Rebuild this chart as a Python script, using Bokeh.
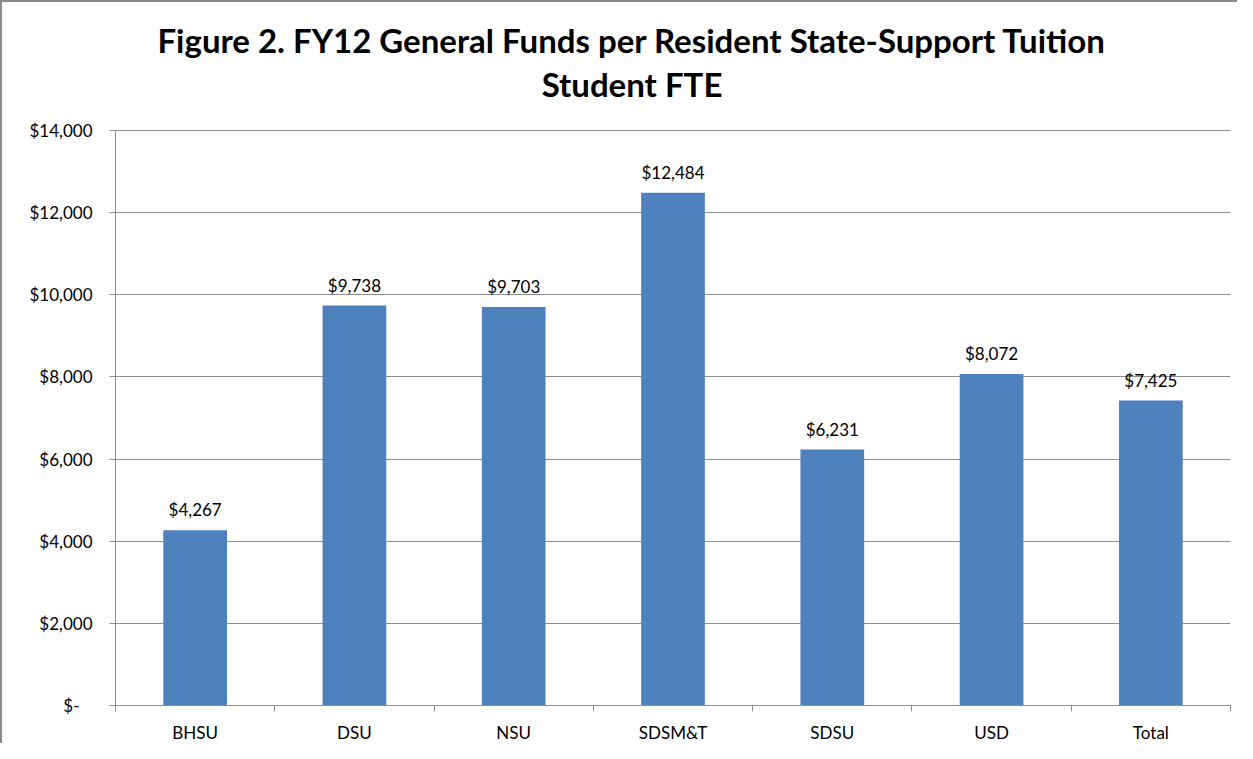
from bokeh.plotting import figure
from bokeh.models import FixedTicker, ColumnDataSource, Range1d
from bokeh.core.properties import value
from bokeh.embed import file_html
from bokeh.resources import INLINE

categories = ["BHSU", "DSU", "NSU", "SDSM&T", "SDSU", "USD", "Total"]
funds = [4267, 9738, 9703, 12484, 6231, 8072, 7425]
y_ticks = [0, 2000, 4000, 6000, 8000, 10000, 12000, 14000]
y_tick_labels = ["$-\u00a0\u00a0\u00a0", "$2,000", "$4,000", "$6,000", "$8,000",
                 "$10,000", "$12,000", "$14,000"]
title_lines = ["Figure 2. FY12 General Funds per Resident State-Support Tuition",
               "Student FTE"]

FONT = "Lato"
GRAY = "#8E8E8E"

W, H = 1237, 743
BORDER_BOTTOM = 35
TITLE_SPACE = 129  # pixels between canvas top and the $14,000 gridline

xs = list(range(1, len(categories) + 1))
bounds = [i + 0.5 for i in range(len(categories) + 1)]
bar_labels = ["${:,}".format(v) for v in funds]
src = ColumnDataSource(dict(x=xs, top=funds, label=bar_labels))

frame_h = H - BORDER_BOTTOM
y_top = y_ticks[-1] * frame_h / (frame_h - TITLE_SPACE)

p = figure(width=W, height=H, x_range=Range1d(bounds[0], bounds[-1]),
           y_range=Range1d(y_ticks[0], y_top),
           output_backend="svg", toolbar_location=None,
           min_border_left=113, min_border_right=9, min_border_bottom=BORDER_BOTTOM,
           min_border_top=0)
p.styles = {"border-left": "2px solid #8A8A8A", "border-top": "2px solid #8A8A8A"}

p.vbar(x="x", top="top", width=0.4, source=src, fill_color="#4F81BD", line_color=None)
p.text(x="x", y="top", text="label", source=src, text_align="center",
       text_baseline="bottom", y_offset=-10, text_font=value(FONT),
       text_font_size="17px", text_color="#000000")

x_mid = (bounds[0] + bounds[-1]) / 2
tsrc = ColumnDataSource(dict(x=[x_mid, x_mid], y=[y_ticks[-1], y_ticks[-1]],
                             text=title_lines, yoff=[-91, -47]))
p.text(x="x", y="y", text="text", source=tsrc, x_offset=-41, y_offset="yoff",
       text_align="center", text_baseline="alphabetic", text_font=value(FONT),
       text_font_style="bold", text_font_size="33px", text_color="#000000")

p.outline_line_color = None
p.background_fill_color = "white"
p.border_fill_color = "white"

p.xgrid.visible = False
p.ygrid.ticker = FixedTicker(ticks=y_ticks)
p.ygrid.grid_line_color = GRAY
p.ygrid.grid_line_width = 1

xa = p.xaxis[0]
xa.ticker = FixedTicker(ticks=xs, minor_ticks=bounds)
xa.major_label_overrides = {x: c for x, c in zip(xs, categories)}
xa.major_tick_out = 0
xa.major_tick_in = 0
xa.minor_tick_out = 6
xa.minor_tick_in = 0
xa.minor_tick_line_color = GRAY
xa.axis_line_color = GRAY
xa.major_label_standoff = 10
xa.major_label_text_font = FONT
xa.major_label_text_font_size = "17px"
xa.major_label_text_color = "#000000"

ya = p.yaxis[0]
ya.ticker = FixedTicker(ticks=y_ticks)
ya.bounds = (y_ticks[0], y_ticks[-1])
ya.major_label_overrides = {t: l for t, l in zip(y_ticks, y_tick_labels)}
ya.major_tick_out = 6
ya.major_tick_in = 0
ya.minor_tick_out = 0
ya.minor_tick_in = 0
ya.major_tick_line_color = GRAY
ya.axis_line_color = GRAY
ya.major_label_standoff = 17
ya.major_label_text_font = FONT
ya.major_label_text_font_size = "17px"
ya.major_label_text_color = "#000000"

open("out.html", "w").write(file_html(p, INLINE))
